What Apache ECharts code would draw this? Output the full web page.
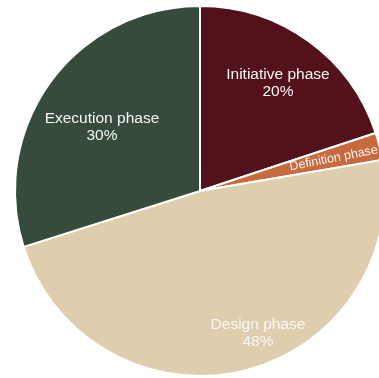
<!DOCTYPE html>
<html>
<head>
<meta charset="utf-8">
<style>
  html, body { margin: 0; padding: 0; background: #ffffff; }
  #chart { width: 379px; height: 378px; }
</style>
<script src="https://cdn.jsdelivr.net/npm/echarts@6/dist/echarts.min.js"></script>
</head>
<body>
<div id="chart"></div>
<script>
// Share of effort per project phase (%), clockwise from 12 o'clock
const phases = ['Initiative phase', 'Definition phase', 'Design phase', 'Execution phase'];
const shares = [20, 2.4, 48, 30];
const showPercent = [true, false, true, true];
const colors = ['#52111b', '#c86a3e', '#dfceae', '#364b3c'];

// Label nudges away from the default mid-radius spot
const labelShift = [[22, -30.5], [42, -1.5], [35.5, 49], [-21, -7.5]];

const chart = echarts.init(document.getElementById('chart'), null, { renderer: 'canvas' });

chart.setOption({
  animation: false,
  series: [{
    type: 'pie',
    center: [200, 191],
    radius: 185,
    startAngle: 90,
    clockwise: true,
    avoidLabelOverlap: false,
    itemStyle: { borderColor: '#ffffff', borderWidth: 2 },
    label: {
      show: true,
      position: 'inside',
      color: '#f7f7f7',
      fontFamily: 'Liberation Sans, Arial, sans-serif',
      fontSize: 15.5,
      lineHeight: 17,
      formatter: p => showPercent[p.dataIndex] ? p.name + '\n' + p.value + '%' : p.name
    },
    labelLine: { show: false },
    labelLayout: p => ({ dx: labelShift[p.dataIndex][0], dy: labelShift[p.dataIndex][1] }),
    emphasis: { disabled: true },
    data: phases.map((name, i) => {
      const item = { name, value: shares[i], itemStyle: { color: colors[i] } };
      if (!showPercent[i]) {
        item.label = { rotate: 11, fontSize: 12.5, lineHeight: 14 };
      }
      return item;
    })
  }]
});
</script>
</body>
</html>
